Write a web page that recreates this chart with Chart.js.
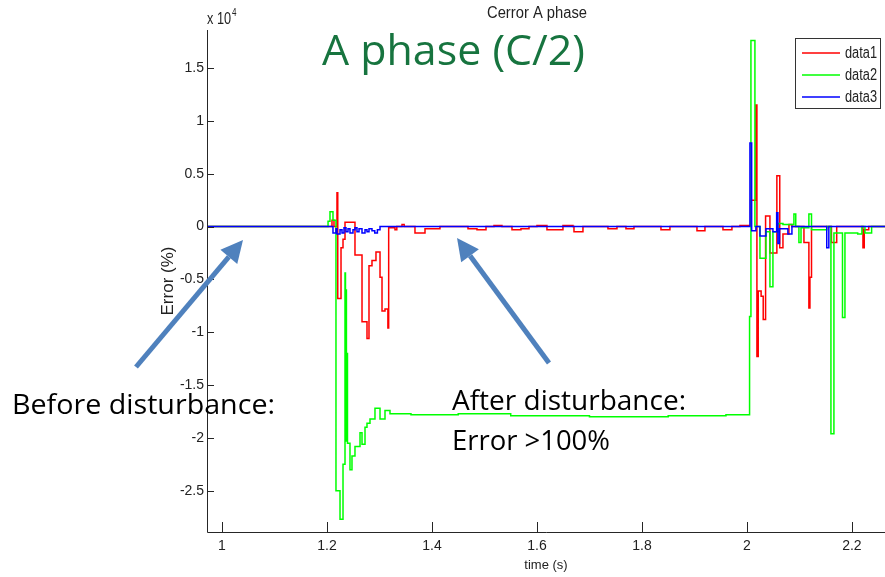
<!DOCTYPE html>
<html>
<head>
<meta charset="utf-8">
<title>Cerror A phase</title>
<script src="https://cdn.jsdelivr.net/npm/chart.js@4.4.0/dist/chart.umd.min.js"></script>
<style>
  html, body { margin: 0; padding: 0; background: #fff; }
  #wrap { width: 885px; height: 577px; }
</style>
</head>
<body>
<div id="wrap"><canvas id="errChart" width="885" height="577"></canvas></div>
<script>
// step start times (s) and error values (x 10^4 %), held until the next time
const redTime = [0.97, 1.2095, 1.2133, 1.219, 1.2205, 1.2267, 1.2305, 1.2343, 1.2533, 1.2667, 1.2762, 1.28, 1.2857, 1.2933, 1.301, 1.3048, 1.3105, 1.316, 1.3175,
  1.3295, 1.333, 1.3429, 1.347, 1.3676, 1.3867, 1.4152, 1.4686, 1.4857, 1.5029, 1.5181, 1.5333, 1.5524, 1.5695, 1.5848, 1.6, 1.619, 1.6495, 1.6686, 1.6705, 1.6876,
  1.7352, 1.7524, 1.7695, 1.7848, 1.8362, 1.8533, 1.9048, 1.92, 1.9543, 1.9714, 1.9867, 2.007, 2.017, 2.019, 2.0215, 2.027, 2.031, 2.0355, 2.0438, 2.057, 2.0625,
  2.0686, 2.08, 2.0857, 2.1086, 2.118, 2.12, 2.123, 2.161, 2.171, 2.221, 2.2235, 2.232, 2.263];
const redErr = [0, 0.06, 0, 0.32, -0.68, -0.2, -0.12, 0.04, -0.27, -0.9, -1.06, -0.37, -0.32, -0.24, -0.48, -0.8, -0.78, -0.96, -0.01,
  -0.03, 0, 0.02, 0, -0.06, -0.02, 0, -0.02, -0.03, 0, 0.01, 0, -0.03, -0.02, 0, 0.01, -0.03, 0.01, 0, -0.05, 0,
  -0.02, 0, -0.02, 0, -0.03, 0, -0.04, 0, -0.03, 0, 0.01, 0.25, 1.15, -1.23, -0.61, -0.66, -0.88, 0.1, -0.25, 0.48, -0.2,
  -0.07, 0.02, 0, -0.15, -0.77, -0.48, 0, -0.15, 0, -0.2, -0.03, 0, 0];

const greenTime = [0.97, 1.202, 1.2057, 1.2114, 1.2171, 1.2248, 1.2305, 1.2343, 1.2352, 1.2362, 1.237, 1.2381, 1.239, 1.2438, 1.2476, 1.2533, 1.2629, 1.2667,
  1.2724, 1.2762, 1.2819, 1.2914, 1.301, 1.3105, 1.32, 1.36, 1.45, 1.55, 1.7, 1.85, 1.96, 2.005, 2.0076, 2.0152, 2.0248, 2.0362, 2.0438, 2.0495, 2.059, 2.0686,
  2.0895, 2.093, 2.099, 2.103, 2.118, 2.123, 2.152, 2.16, 2.1657, 2.182, 2.1867, 2.211, 2.219, 2.2248, 2.2375, 2.263];
const greenErr = [0, 0.05, 0.14, 0.06, -2.5, -2.77, -2.25, -0.44, -2.03, -0.6, -2.0, -1.2, -2.05, -2.3, -2.17, -2.08, -1.95, -2.06,
  -1.9, -1.86, -1.82, -1.72, -1.82, -1.74, -1.77, -1.78, -1.77, -1.79, -1.8, -1.79, -1.78, -0.85, 1.76, 0, -0.3, -0.05, -0.57, -0.05, 0.03, 0.02,
  0.12, 0, -0.15, -0.01, 0.12, -0.03, 0, -1.96, -0.06, -0.86, -0.06, -0.07, 0, -0.06, 0, 0];

const blueTime = [0.97, 1.2114, 1.2171, 1.219, 1.2248, 1.2286, 1.2324, 1.2362, 1.24, 1.2438, 1.2495, 1.2533, 1.2571, 1.261, 1.2667, 1.2724, 1.2762, 1.28,
  1.2857, 1.291, 1.296, 1.301, 2.0057, 2.009, 2.0171, 2.0248, 2.0362, 2.0495, 2.0566, 2.059, 2.062, 2.078, 2.0857, 2.152, 2.156, 2.263];
const blueErr = [0, -0.06, -0.02, -0.07, -0.03, -0.06, -0.01, -0.05, -0.02, -0.06, -0.03, -0.01, -0.05, -0.02, -0.06, -0.03, -0.05, -0.02,
  -0.04, -0.06, -0.03, 0, 0.79, -0.04, 0, -0.09, -0.02, -0.05, 0.13, -0.16, -0.02, -0.07, 0, -0.2, 0, 0];

const seriesNames = ['data1', 'data2', 'data3'];
const xTicks = [1, 1.2, 1.4, 1.6, 1.8, 2, 2.2];
const xTickLabels = ['1', '1.2', '1.4', '1.6', '1.8', '2', '2.2'];
const yTicks = [-2.5, -2, -1.5, -1, -0.5, 0, 0.5, 1, 1.5];
const yTickLabels = ['-2.5', '-2', '-1.5', '-1', '-0.5', '0', '0.5', '1', '1.5'];

const SANS = "'Liberation Sans', Arial, sans-serif";
const SLIDE = "'Open Sans', 'Noto Sans', sans-serif";
const lineColors = ['#ff0000', '#00ff00', '#0000ff'];

function toPoints(ts, vs) {
  return ts.map((t, i) => ({x: t, y: vs[i]}));
}

// text squeezed to a given width (the slide picture was stretched)
function fitText(ctx, txt, x, y, font, w) {
  ctx.save();
  ctx.font = font;
  const m = ctx.measureText(txt).width;
  ctx.translate(x, y);
  ctx.scale(w / m, 1);
  ctx.fillText(txt, 0, 0);
  ctx.restore();
}

function arrow(ctx, x0, y0, x1, y1) {
  const ang = Math.atan2(y1 - y0, x1 - x0);
  const headLen = 22, headW = 11;
  const bx = x1 - headLen * Math.cos(ang), by = y1 - headLen * Math.sin(ang);
  ctx.save();
  ctx.strokeStyle = ctx.fillStyle = '#4f81bd';
  ctx.lineWidth = 5;
  ctx.beginPath(); ctx.moveTo(x0, y0); ctx.lineTo(bx, by); ctx.stroke();
  ctx.beginPath();
  ctx.moveTo(x1, y1);
  ctx.lineTo(bx + headW * Math.sin(ang), by - headW * Math.cos(ang));
  ctx.lineTo(bx - headW * Math.sin(ang), by + headW * Math.cos(ang));
  ctx.closePath(); ctx.fill();
  ctx.restore();
}

const decor = {
  id: 'decor',
  beforeDraw(chart) {
    const ctx = chart.ctx;
    ctx.save();
    ctx.fillStyle = '#fff';
    ctx.fillRect(0, 0, chart.width, chart.height);
    ctx.restore();
  },
  afterDatasetsDraw(chart) {
    const {ctx, chartArea: a, scales: {x, y}} = chart;
    ctx.save();
    ctx.strokeStyle = '#262626';
    ctx.lineWidth = 1;
    ctx.beginPath();
    ctx.moveTo(a.left + 0.5, a.top);
    ctx.lineTo(a.left + 0.5, a.bottom + 0.5);
    ctx.lineTo(a.right, a.bottom + 0.5);
    xTicks.forEach(v => {
      const px = Math.round(x.getPixelForValue(v)) + 0.5;
      ctx.moveTo(px, a.bottom);
      ctx.lineTo(px, a.bottom - 10);
    });
    yTicks.forEach(v => {
      const py = Math.round(y.getPixelForValue(v)) + 0.5;
      ctx.moveTo(a.left, py);
      ctx.lineTo(a.left + 7, py);
    });
    ctx.stroke();
    ctx.restore();
  },
  afterDraw(chart) {
    const ctx = chart.ctx;
    ctx.save();
    // exponent label
    ctx.fillStyle = '#222';
    ctx.textBaseline = 'alphabetic';
    fitText(ctx, 'x 10', 207, 24, '16px ' + SANS, 24);
    fitText(ctx, '4', 232, 16, '10px ' + SANS, 4.5);
    // small axes title
    fitText(ctx, 'Cerror A phase', 487, 18, '16px ' + SANS, 100);

    // legend
    ctx.fillStyle = '#fff';
    ctx.fillRect(795, 38, 85, 70);
    ctx.strokeStyle = '#333';
    ctx.lineWidth = 1;
    ctx.strokeRect(795.5, 38.5, 85, 70);
    ctx.textBaseline = 'middle';
    seriesNames.forEach((name, i) => {
      const ly = 53 + i * 22;
      ctx.strokeStyle = lineColors[i];
      ctx.lineWidth = 1.5;
      ctx.beginPath(); ctx.moveTo(802, ly); ctx.lineTo(840, ly); ctx.stroke();
      ctx.fillStyle = '#222';
      fitText(ctx, name, 845, ly + 1, '16px ' + SANS, 32);
    });

    // slide annotations
    ctx.textBaseline = 'alphabetic';
    ctx.fillStyle = '#17743f';
    fitText(ctx, 'A phase (C/2)', 322, 65, '42px ' + SLIDE, 263);
    ctx.fillStyle = '#000';
    fitText(ctx, 'Before disturbance:', 12, 414, '28px ' + SLIDE, 263);
    fitText(ctx, 'After disturbance:', 452, 410, '28px ' + SLIDE, 234);
    fitText(ctx, 'Error >100%', 452, 450, '28px ' + SLIDE, 158);
    arrow(ctx, 136, 367, 243, 240);
    arrow(ctx, 549, 363, 457, 238);
    ctx.restore();
  }
};

const ds = [
  {label: seriesNames[0], data: toPoints(redTime, redErr), borderColor: lineColors[0], order: 3},
  {label: seriesNames[1], data: toPoints(greenTime, greenErr), borderColor: lineColors[1], order: 2},
  {label: seriesNames[2], data: toPoints(blueTime, blueErr), borderColor: lineColors[2], order: 1}
].map(d => Object.assign(d, {stepped: true, borderWidth: 1.5, pointRadius: 0, fill: false, tension: 0}));

new Chart(document.getElementById('errChart'), {
  type: 'line',
  data: {datasets: ds},
  options: {
    responsive: false,
    animation: false,
    devicePixelRatio: 1,
    layout: {padding: {top: 30, right: 0, bottom: 0, left: 0}},
    plugins: {legend: {display: false}, tooltip: {enabled: false}, title: {display: false}},
    scales: {
      x: {
        type: 'linear',
        min: 0.9714,
        max: 2.263,
        afterFit: s => { s.height = 45; },
        afterBuildTicks: s => { s.ticks = xTicks.map(v => ({value: v})); },
        grid: {display: false, drawTicks: false},
        border: {display: false},
        ticks: {
          autoSkip: false, maxRotation: 0, padding: 6, color: '#222',
          font: {family: SANS, size: 14},
          callback: (v, i) => xTickLabels[i]
        },
        title: {display: true, text: 'time (s)', color: '#222', font: {family: SANS, size: 13}, padding: {top: 0, bottom: 4}}
      },
      y: {
        min: -2.89,
        max: 1.86,
        afterFit: s => { s.width = 207; },
        afterBuildTicks: s => { s.ticks = yTicks.map(v => ({value: v})); },
        grid: {display: false, drawTicks: false},
        border: {display: false},
        ticks: {
          autoSkip: false, padding: 3, color: '#222',
          font: {family: SANS, size: 14},
          callback: (v, i) => yTickLabels[i]
        },
        title: {display: true, text: 'Error (%)', color: '#222', font: {family: SANS, size: 17}, padding: {top: 158, bottom: 0}}
      }
    }
  },
  plugins: [decor]
});
</script>
</body>
</html>
